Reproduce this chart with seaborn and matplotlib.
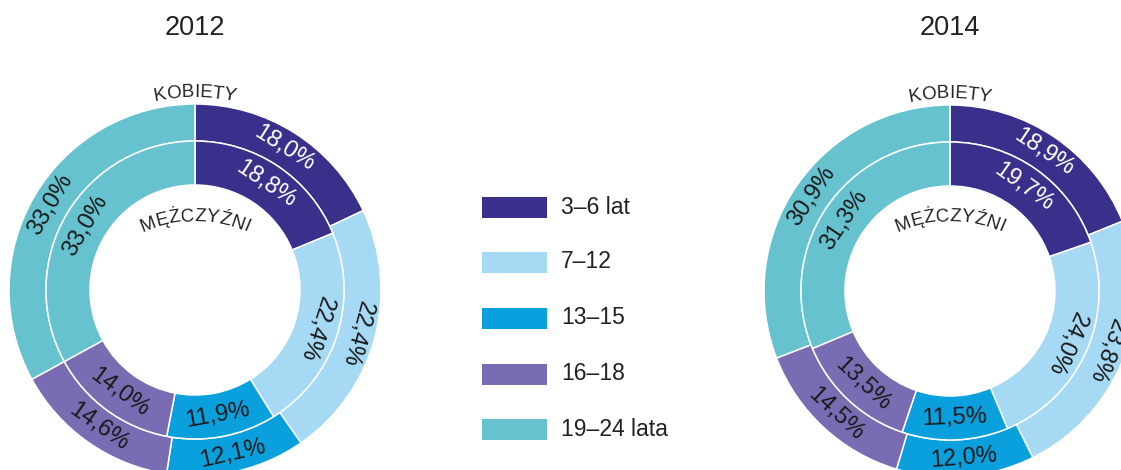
import numpy as np
import matplotlib
matplotlib.use("Agg")
import matplotlib.pyplot as plt
import seaborn as sns
from matplotlib.patches import Rectangle

sns.set_theme(style="white")
plt.rcParams['font.family'] = ['Liberation Sans', 'DejaVu Sans']

categories = ["3–6 lat", "7–12", "13–15", "16–18", "19–24 lata"]
years = ["2012", "2014"]
kobiety_2012 = [18.0, 22.4, 12.1, 14.6, 33.0]
mezczyzni_2012 = [18.8, 22.4, 11.9, 14.0, 33.0]
kobiety_2014 = [18.9, 23.8, 12.0, 14.5, 30.9]
mezczyzni_2014 = [19.7, 24.0, 11.5, 13.5, 31.3]

palette = sns.color_palette(["#38308a", "#a6d9f3", "#0aa0dd", "#7a6cb2", "#66c2cf"])
label_colors = ["white", "#1a1a1a", "#1a1a1a", "#1a1a1a", "#1a1a1a"]

W, H = 1121, 470
fig = plt.figure(figsize=(W / 100, H / 100), dpi=100)
ax = fig.add_axes([0, 0, 1, 1])
renderer = fig.canvas.get_renderer()


def fmt(v):
    return f"{v:.1f}".replace(".", ",") + "%"


def arc_text(s, cx, cy, r, fontsize, color="#222222"):
    widths = []
    for i in range(len(s) + 1):
        t = ax.text(0, 0, s[:i] if i else "", fontsize=fontsize)
        widths.append(t.get_window_extent(renderer).width if i else 0.0)
        t.remove()
    total = widths[-1]
    for i, ch in enumerate(s):
        off = (widths[i] + widths[i + 1]) / 2 - total / 2
        ang = np.pi / 2 - off / r
        x = cx + r * np.cos(ang)
        y = cy + r * np.sin(ang)
        ax.text(x, y, ch, fontsize=fontsize, color=color, rotation=np.degrees(ang) - 90,
                ha="center", va="baseline", rotation_mode="anchor")


def ring_labels(vals, cx, cy, r, colors):
    total = sum(vals)
    cum = 0.0
    for v, c in zip(vals, colors):
        mid = 90 - (cum + v / 2) / total * 360
        cum += v
        rot = (mid - 90 + 180) % 360 - 180
        if rot < -120 or rot > 120:
            rot = (rot + 180 + 180) % 360 - 180
        a = np.radians(mid)
        ax.text(cx + r * np.cos(a), cy + r * np.sin(a), fmt(v), fontsize=17, color=c,
                rotation=rot, ha="center", va="center", rotation_mode="anchor")


R_OUT, R_MID, R_IN = 186, 149, 105
donuts = [
    (years[0], kobiety_2012, mezczyzni_2012, 195, 290),
    (years[1], kobiety_2014, mezczyzni_2014, 950, 291),
]
for year, kob, mez, cxp, cyp in donuts:
    cx, cy = cxp, H - cyp
    wp = dict(edgecolor="white", linewidth=1.1)
    ax.pie(kob, radius=R_OUT, center=(cx, cy), startangle=90, counterclock=False,
           colors=palette, wedgeprops=dict(width=R_OUT - R_MID, **wp), frame=False)
    ax.pie(mez, radius=R_MID, center=(cx, cy), startangle=90, counterclock=False,
           colors=palette, wedgeprops=dict(width=R_MID - R_IN, **wp), frame=False)
    ring_labels(kob, cx, cy, (R_OUT + R_MID) / 2, label_colors)
    ring_labels(mez, cx, cy, (R_MID + R_IN) / 2, label_colors)
    ax.text(cx, H - 28, year, fontsize=19.5, color="#222222", ha="center", va="center")
    arc_text("KOBIETY", cx, cy, 193, 13.5)
    arc_text("MĘŻCZYŹNI", cx, H - (221 + 125), 125, 13.5)

# legend
leg_y = [207, 262, 318, 374, 429]
for cat, col, yp in zip(categories, palette, leg_y):
    ax.add_patch(Rectangle((482, H - yp - 10.5), 65, 21, facecolor=col, edgecolor="none"))
    ax.text(561, H - yp, cat, fontsize=16.5, color="#222222", ha="left", va="center")

ax.set_xlim(0, W)
ax.set_ylim(0, H)
ax.set_aspect("equal")
ax.axis("off")
fig.savefig("out.png", dpi=100, facecolor="white")
